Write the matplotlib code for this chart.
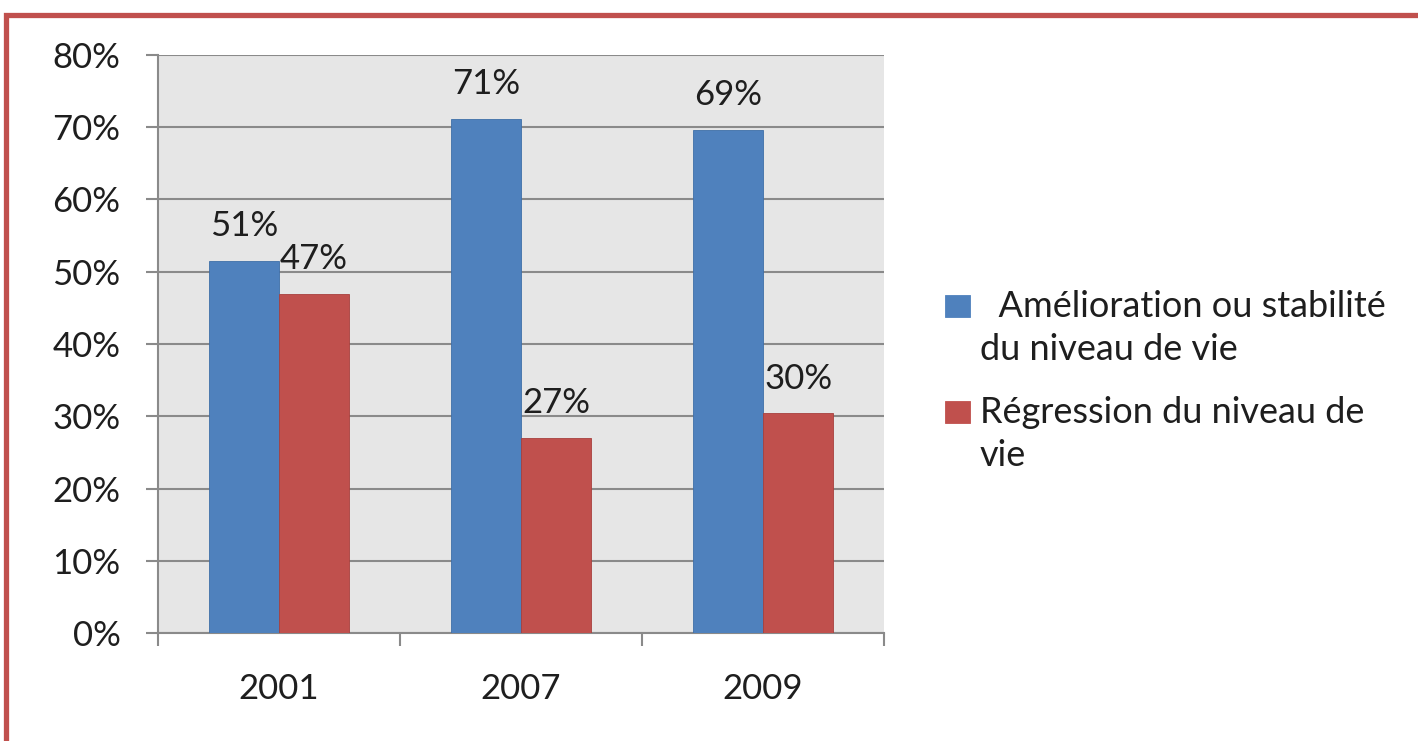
import matplotlib.pyplot as plt
from matplotlib.patches import Rectangle
import numpy as np

plt.rcParams['font.family'] = ['Lato', 'DejaVu Sans']

years = ["2001", "2007", "2009"]
amelioration = [51.5, 71.2, 69.6]      # blue bars
regression = [46.9, 27.0, 30.4]        # red bars
labels_amel = ["51%", "71%", "69%"]
labels_regr = ["47%", "27%", "30%"]
legend_labels = ["  Amélioration ou stabilité\ndu niveau de vie",
                 "Régression du niveau de\nvie"]

blue = "#4F81BD"
red = "#C0504D"
txt = "#1E1E1E"
fs = 25

fig = plt.figure(figsize=(14.18, 7.41), dpi=100)
ax = fig.add_axes([158 / 1418, 1 - 633 / 741, (884 - 158) / 1418, (633 - 55) / 741])

x = np.arange(len(years))
w = 0.29
b1 = ax.bar(x - w / 2, amelioration, w, color=blue, edgecolor="#3F6FA8", linewidth=0.6, zorder=3)
b2 = ax.bar(x + w / 2, regression, w, color=red, edgecolor="#A8403D", linewidth=0.6, zorder=3)

for xi, v, t in zip(x - w / 2, amelioration, labels_amel):
    ax.annotate(t, (xi, v), xytext=(0, 25), textcoords="offset points",
                ha="center", va="center", fontsize=fs, color=txt)
for xi, v, t in zip(x + w / 2, regression, labels_regr):
    ax.annotate(t, (xi, v), xytext=(0, 25), textcoords="offset points",
                ha="center", va="center", fontsize=fs, color=txt)

ax.set_xlim(-0.5, 2.5)
ax.set_ylim(0, 80)
ax.set_facecolor("#E6E6E6")
ax.set_yticks(range(0, 81, 10))
ax.set_yticklabels([f"{v}%" for v in range(0, 81, 10)], fontsize=fs, color=txt)
ax.yaxis.grid(True, color="#8A8A8A", linewidth=1.5, zorder=1)
ax.set_axisbelow(True)

ax.set_xticks(x)
ax.set_xticklabels(years, fontsize=fs, color=txt)
ax.set_xticks([-0.5, 0.5, 1.5, 2.5], minor=True)
ax.tick_params(axis="x", which="major", length=0, pad=29)
ax.tick_params(axis="x", which="minor", length=9, width=1.5, color="#8A8A8A")
ax.tick_params(axis="y", length=9, width=1.5, color="#8A8A8A", pad=18)

for s in ["top", "right"]:
    ax.spines[s].set_visible(False)
for s in ["left", "bottom"]:
    ax.spines[s].set_color("#8A8A8A")
    ax.spines[s].set_linewidth(1.5)

# legend drawn by hand so the swatch sits on the first line of each label
W, H = 1418, 741
for (base, col, lab) in [(317, blue, legend_labels[0]), (423, red, legend_labels[1])]:
    fig.patches.append(Rectangle((945 / W, 1 - base / H), 25 / W, 22 / H,
                                 transform=fig.transFigure, facecolor=col,
                                 edgecolor=col, linewidth=0.6))
    for i, line in enumerate(lab.split("\n")):
        fig.text(980 / W, 1 - (base + i * 43) / H, line, ha="left", va="baseline",
                 fontsize=26, color=txt)

# red frame around the chart
fig.patches.append(Rectangle((6 / W, -0.1), 1.2, 0.1 + 1 - 15 / H,
                             transform=fig.transFigure, fill=False,
                             edgecolor=red, linewidth=3.8, zorder=10))

fig.savefig("out.png", dpi=100)
